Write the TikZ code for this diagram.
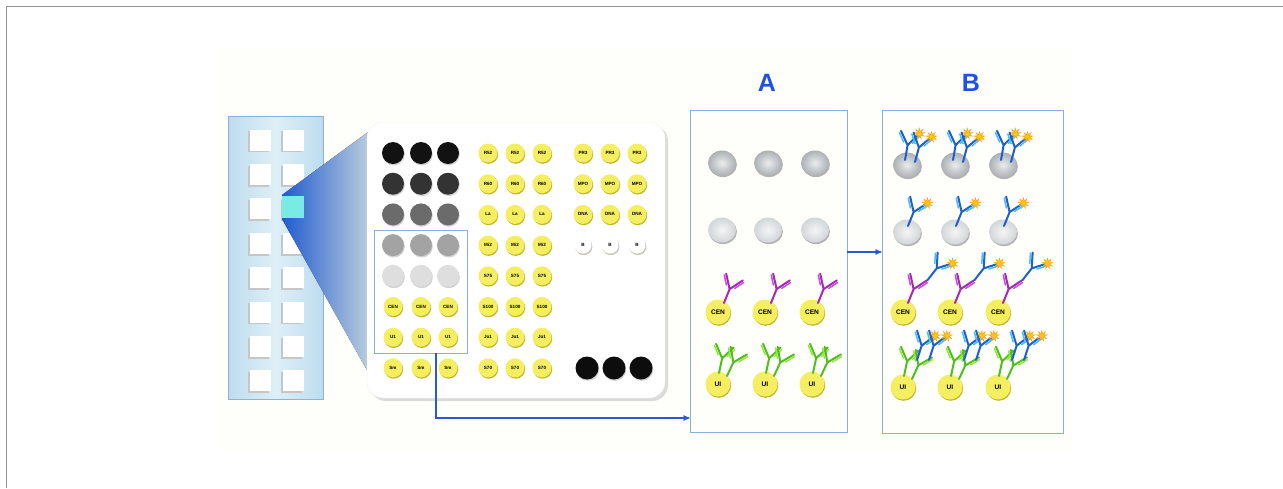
\documentclass[tikz,border=0pt]{standalone}
\usepackage{fontspec}
\setmainfont{Liberation Sans}
\usetikzlibrary{arrows,shapes.geometric}

\definecolor{paper}{RGB}{254,254,251}
\definecolor{framegray}{RGB}{150,150,150}
\definecolor{stripin}{RGB}{222,239,247}
\definecolor{stripout}{RGB}{190,220,238}
\definecolor{stripedge}{RGB}{140,180,215}
\definecolor{conedark}{RGB}{35,100,232}
\definecolor{conelight}{RGB}{205,228,248}
\definecolor{cellcyan}{RGB}{120,236,228}
\definecolor{boxblue}{RGB}{140,172,218}
\definecolor{lineblue}{RGB}{40,90,215}
\definecolor{labblue}{RGB}{30,80,225}
\definecolor{beadyellow}{RGB}{244,238,96}
\definecolor{beadedge}{RGB}{196,184,40}
\definecolor{discdark}{RGB}{172,177,180}
\definecolor{disclight}{RGB}{210,214,216}
\definecolor{abblue}{RGB}{30,95,215}
\definecolor{ablight}{RGB}{70,195,235}
\definecolor{abpurple}{RGB}{165,40,185}
\definecolor{abpurplelt}{RGB}{200,80,215}
\definecolor{abgreen}{RGB}{80,190,30}
\definecolor{abgreenlt}{RGB}{150,230,60}
\definecolor{sparkcol}{RGB}{252,196,40}

% antibody: base, angle, heavy chain, light chain, name of the marked tip
\newcommand{\Antibody}[5]{%
  \begin{scope}[shift={#1},rotate=#2]
    \draw[abline,draw=#3] (0,0) -- (0,-15) (-9,-28) -- (0,-15) -- (9,-28);
    \draw[abline,line width=1.5pt,draw=#4] (-4.5,-17.6) -- (-10.3,-26.1)
      (4.5,-17.6) -- (10.3,-26.1);
    \coordinate (#5) at (9.5,-28.5);
  \end{scope}}

\begin{document}
\begin{tikzpicture}[x=1pt,y=-1pt,
  cell/.style={rectangle,minimum size=21,inner sep=0pt,fill=white,
    preaction={fill=gray!45,transform canvas={xshift=-1.6pt,yshift=-1.8pt}}},
  gbead/.style={circle,minimum size=22,inner sep=0pt,
    preaction={fill=gray!35,transform canvas={xshift=0.8pt,yshift=-1.4pt}}},
  ybead/.style={circle,minimum size=19,inner sep=0pt,fill=beadyellow,
    font=\fontsize{4.6}{5}\selectfont\bfseries,
    preaction={fill=beadedge,transform canvas={xshift=0.7pt,yshift=-1.3pt}}},
  wbead/.style={ybead,minimum size=17,fill=white,
    preaction={fill=gray!45,transform canvas={xshift=0.8pt,yshift=-1.3pt}}},
  bigbead/.style={ybead,minimum size=25,font=\fontsize{6.6}{7}\selectfont\bfseries},
  disc/.style={ellipse,minimum width=28,minimum height=25,inner sep=0pt,
    shading=radial,inner color=#1!25!white,outer color=#1,
    preaction={fill=gray!60,transform canvas={xshift=0.9pt,yshift=-1.6pt}}},
  panel/.style={rectangle,draw=boxblue,line width=0.9pt,inner sep=0pt},
  flow/.style={draw=lineblue,line width=1.2pt,-stealth'},
  abline/.style={line width=2pt,line cap=round,line join=round},
  spark/.style={star,star points=9,star point ratio=2.4,inner sep=0pt,
    minimum size=11,fill=sparkcol,draw=orange!80!yellow,line width=0.3pt}]

\useasboundingbox (0,0) rectangle (1283,488);
\fill[paper] (221,47) rectangle (1072,450);
\draw[framegray,line width=1.6pt] (6.5,488) -- (6.5,6.5) -- (1283,6.5);

% slide with its wells
\node[rectangle,minimum width=95,minimum height=283,inner sep=0pt,
  left color=stripout,right color=stripout,middle color=stripin,
  draw=stripedge,line width=0.8pt] (slide) at (275.5,257.5) {};
\foreach \y [count=\i] in {140,174.4,208.8,243.2,277.6,312,346.4,380.8} {
  \node[cell] (w\i-1) at (260,\y) {};
  \node[cell] (w\i-2) at (293,\y) {};
}
\fill[left color=conedark,right color=conelight,opacity=0.88]
  (282,195) -- (368,132) -- (368,372) -- (282,219) -- cycle;
\node[rectangle,minimum size=22,inner sep=0pt,fill=cellcyan] (well) at (293,207) {};

% bead panel
\fill[gray!28,rounded corners=16] (370,125) rectangle (668,401);
\draw[white!88!gray,fill=white,rounded corners=16] (367,122) rectangle (665,398);

\foreach \c [count=\i from 0] in {black!93,black!80,black!58,black!36,black!13} {
  \foreach \x [count=\j] in {393,421,448}
    \node[gbead,fill=\c] (g\i-\j) at (\x,{153+30.7*\i}) {};
}
\foreach \lab [count=\i from 5] in {CEN,U1,Sm} {
  \foreach \x [count=\j] in {393,421,448}
    \node[ybead] (g\i-\j) at (\x,{153+30.7*\i}) {\lab};
}
\foreach \lab [count=\i from 0] in {R52,R60,La,Mi2,S75,S100,Jo1,S70} {
  \foreach \x [count=\j] in {488,515,542}
    \node[ybead] (m\i-\j) at (\x,{153+30.7*\i}) {\lab};
}
\foreach \lab [count=\i from 0] in {PR3,MPO,DNA} {
  \foreach \x [count=\j] in {583,610,637}
    \node[ybead] (r\i-\j) at (\x,{153+30.7*\i}) {\lab};
}
\foreach \x [count=\j] in {583,610,637} {
  \node[wbead] (r3-\j) at (\x,245.1) {B};
  \node[gbead,fill=black!95,minimum size=23] (k\j) at ({\x+4},368) {};
}
\node[panel,draw=boxblue,line width=0.8pt,minimum width=93,minimum height=123]
  (sel) at (420.5,291.5) {};

% panels A and B
\node[panel,minimum width=157,minimum height=322] (pa) at (768.5,271) {};
\node[panel,minimum width=181,minimum height=323] (pb) at (972.5,271.5) {};
\node[font=\fontsize{25}{25}\selectfont\bfseries,text=labblue] (labA) at (767,83) {A};
\node[font=\fontsize{25}{25}\selectfont\bfseries,text=labblue] (labB) at (971,83) {B};

\draw[flow] (sel.south -| 436,0) |- (pa.west |- 0,418);
\draw[flow] (pa.east |- 0,252) -- (pb.west |- 0,252);

\foreach \x [count=\j] in {722,768,815} {
  \node[disc=discdark] (a1-\j) at (\x,163) {};
  \node[disc=disclight] (a2-\j) at (\x,230) {};
}
\foreach \x [count=\j] in {718,765,812} {
  \node[bigbead] (a3-\j) at (\x,312) {CEN};
  \node[bigbead] (a4-\j) at (\x,384) {UI};
  \Antibody{({\x+6},303)}{-22}{abpurple}{abpurplelt}{ap\j}
  \Antibody{({\x+1},373)}{-12}{abgreen}{abgreenlt}{ag\j}
  \Antibody{({\x+9},376)}{-25}{abgreen}{abgreenlt}{ah\j}
}

\foreach \x [count=\j] in {907,955,1003} {
  \node[disc=discdark] (b1-\j) at (\x,165) {};
  \node[disc=disclight] (b2-\j) at (\x,232) {};
  \Antibody{({\x-2},160)}{-10}{abblue}{ablight}{s\j}
  \node[spark] (s\j-star) at (s\j) {};
  \Antibody{({\x+8},162)}{-15}{abblue}{ablight}{t\j}
  \node[spark] (t\j-star) at (t\j) {};
  \Antibody{({\x+1},226)}{-22}{abblue}{ablight}{u\j}
  \node[spark] (u\j-star) at (u\j) {};
}
\foreach \x [count=\j] in {903,950,998} {
  \node[bigbead] (b3-\j) at (\x,312) {CEN};
  \node[bigbead] (b4-\j) at (\x,387) {UI};
  \Antibody{({\x+5},303)}{-22}{abpurple}{abpurplelt}{p\j}
  \Antibody{(p\j)}{-38}{abblue}{ablight}{q\j}
  \node[spark] (q\j-star) at (q\j) {};
  \Antibody{({\x+1},376)}{-12}{abgreen}{abgreenlt}{g\j}
  \Antibody{({\x+9},379)}{-25}{abgreen}{abgreenlt}{h\j}
  \Antibody{({\x+14},360)}{-18}{abblue}{ablight}{v\j}
  \node[spark] (v\j-star) at (v\j) {};
  \Antibody{({\x+26},360)}{-18}{abblue}{ablight}{z\j}
  \node[spark] (z\j-star) at (z\j) {};
}
\end{tikzpicture}
\end{document}
